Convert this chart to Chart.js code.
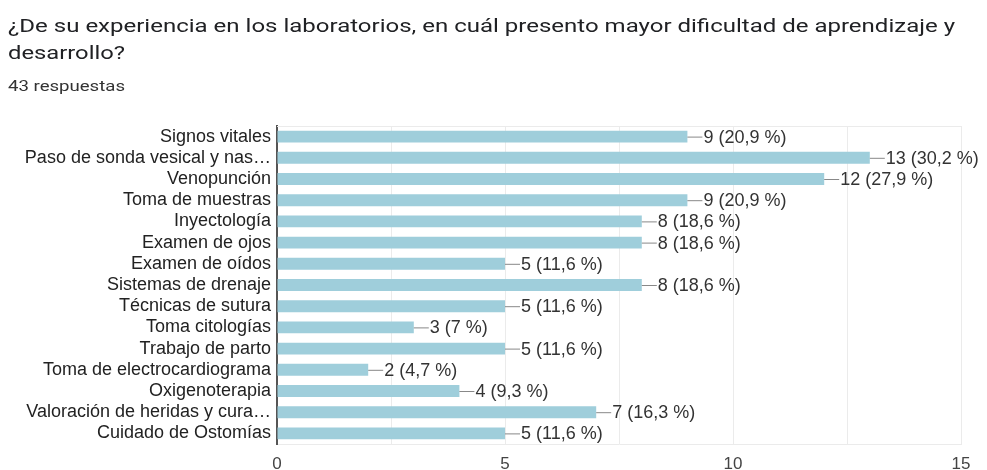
<!DOCTYPE html>
<html>
<head>
<meta charset="utf-8">
<script src="https://cdn.jsdelivr.net/npm/chart.js@4.4.1/dist/chart.umd.min.js"></script>
<style>
  body { margin: 0; background: #fff; }
  #wrap { position: relative; width: 987px; height: 470px; }
  .txt { position: absolute; left: 8px; white-space: nowrap; transform-origin: 0 0; font-family: Roboto, sans-serif; }
  #t1 { top: 14px; font-size: 19px; color: #202124; }
  #t2 { top: 41px; font-size: 19px; color: #202124; }
  #sub { top: 77px; font-size: 15px; color: #333; }
  canvas { position: absolute; left: 0; top: 0; }
</style>
</head>
<body>
<div id="wrap">
  <canvas id="chart" width="987" height="470"></canvas>
  <div class="txt" id="t1">¿De su experiencia en los laboratorios, en cuál presento mayor dificultad de aprendizaje y</div>
  <div class="txt" id="t2">desarrollo?</div>
  <div class="txt" id="sub">43 respuestas</div>
</div>
<script>
const categories = [
    'Signos vitales',
    'Paso de sonda vesical y nas…',
    'Venopunción',
    'Toma de muestras',
    'Inyectología',
    'Examen de ojos',
    'Examen de oídos',
    'Sistemas de drenaje',
    'Técnicas de sutura',
    'Toma citologías',
    'Trabajo de parto',
    'Toma de electrocardiograma',
    'Oxigenoterapia',
    'Valoración de heridas y cura…',
    'Cuidado de Ostomías'
];
const counts = [9, 13, 12, 9, 8, 8, 5, 8, 5, 3, 5, 2, 4, 7, 5];
const percents = ['20,9', '30,2', '27,9', '20,9', '18,6', '18,6', '11,6', '18,6', '11,6', '7', '11,6', '4,7', '9,3', '16,3', '11,6'];
const xTicks = [0, 5, 10, 15];

// the screenshot text is a bit wider than the font, stretch to fit
function stretch(id, target) {
    const el = document.getElementById(id);
    const w = el.getBoundingClientRect().width;
    el.style.transform = 'scaleX(' + (target / w) + ')';
}
stretch('t1', 947);
stretch('t2', 117);
stretch('sub', 117);

const labelFont = '18px "Liberation Sans", Arial, sans-serif';

// draws "—9 (20,9 %)" next to each bar
const valueLabels = {
    id: 'valueLabels',
    afterDatasetsDraw(chart) {
        const ctx = chart.ctx;
        const meta = chart.getDatasetMeta(0);
        ctx.save();
        ctx.font = labelFont;
        ctx.textBaseline = 'middle';
        meta.data.forEach((bar, i) => {
            ctx.strokeStyle = '#888';
            ctx.lineWidth = 1;
            ctx.beginPath();
            ctx.moveTo(bar.x, bar.y + 0.5);
            ctx.lineTo(bar.x + 15, bar.y + 0.5);
            ctx.stroke();
            ctx.fillStyle = '#333';
            ctx.fillText(counts[i] + ' (' + percents[i] + ' %)', bar.x + 16, bar.y + 1);
        });
        ctx.restore();
    }
};

// light frame line along the top of the plot
const topBorder = {
    id: 'topBorder',
    beforeDatasetsDraw(chart) {
        const { ctx, chartArea } = chart;
        ctx.save();
        ctx.strokeStyle = '#ebebeb';
        ctx.lineWidth = 1;
        ctx.beginPath();
        ctx.moveTo(chartArea.left, chartArea.top + 0.5);
        ctx.lineTo(chartArea.right, chartArea.top + 0.5);
        ctx.stroke();
        ctx.restore();
    }
};

new Chart(document.getElementById('chart').getContext('2d'), {
    type: 'bar',
    data: {
        labels: categories,
        datasets: [{
            data: counts,
            backgroundColor: '#9fcedb',
            borderWidth: 0,
            categoryPercentage: 1,
            barPercentage: 0.56
        }]
    },
    options: {
        indexAxis: 'y',
        responsive: false,
        animation: false,
        layout: { padding: { top: 126, right: 26, left: 0, bottom: 0 } },
        plugins: {
            legend: { display: false },
            tooltip: { enabled: false }
        },
        scales: {
            x: {
                min: 0,
                max: 15,
                afterBuildTicks: (scale) => {
                    const t = [];
                    for (let v = 0; v <= 15; v += 2.5) t.push({ value: v });
                    scale.ticks = t;
                },
                afterFit: (scale) => { scale.height = 26; },
                ticks: {
                    autoSkip: false,
                    maxRotation: 0,
                    padding: 10,
                    color: '#444',
                    font: { family: '"Liberation Sans", Arial, sans-serif', size: 17 },
                    callback: (v) => xTicks.includes(v) ? String(v) : ''
                },
                grid: { color: '#ebebeb', drawTicks: false },
                border: { color: '#ebebeb' }
            },
            y: {
                afterFit: (scale) => { scale.width = 277; },
                ticks: {
                    autoSkip: false,
                    padding: 6,
                    color: '#222',
                    font: { family: '"Liberation Sans", Arial, sans-serif', size: 18 }
                },
                grid: { display: false, drawTicks: false },
                border: { color: '#555', width: 2 }
            }
        }
    },
    plugins: [valueLabels, topBorder]
});
</script>
</body>
</html>
